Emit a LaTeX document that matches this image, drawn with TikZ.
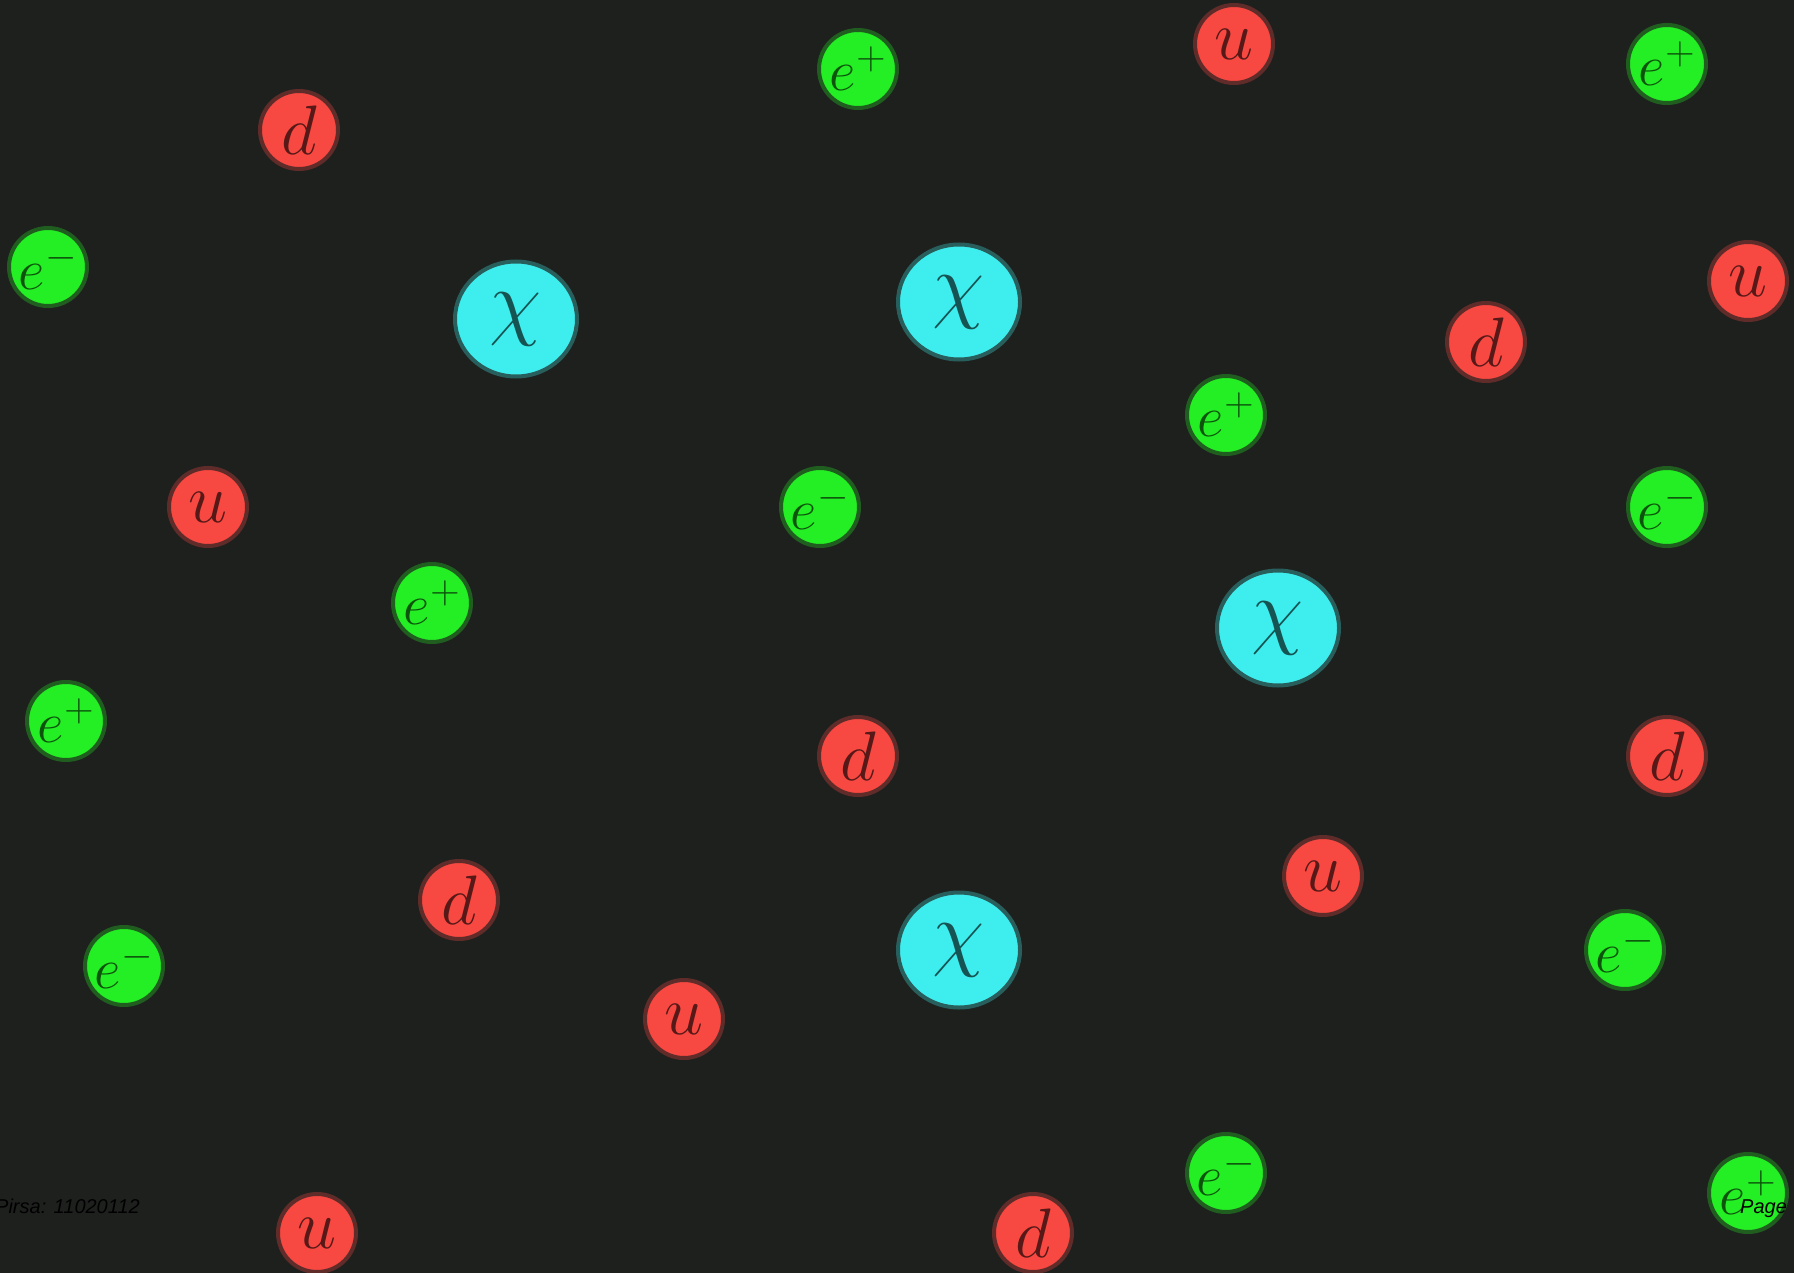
\RequirePackage{fix-cm}
\documentclass[tikz,border=0pt]{standalone}
\usepackage{fontspec}
\usetikzlibrary{shapes.geometric}
\newfontfamily\arialfont{Liberation Sans}
\definecolor{bg}{HTML}{1E201E}
\definecolor{qred}{HTML}{F84842}
\definecolor{lgreen}{HTML}{24EE24}
\definecolor{dcyan}{HTML}{3EEEEE}
\tikzset{
  particle/.style={circle, inner sep=0pt, line width=4pt, minimum size=78pt},
  quark/.style={particle, fill=qred, draw=qred!30!bg, text=qred!35!black, font=\fontsize{70}{70}\selectfont},
  lepton/.style={particle, fill=lgreen, draw=lgreen!30!bg, text=lgreen!35!black, font=\fontsize{58}{58}\selectfont},
  darkm/.style={ellipse, inner sep=0pt, line width=4pt, minimum width=122pt, minimum height=115pt, fill=dcyan, draw=dcyan!30!bg, text=dcyan!35!black, font=\fontsize{85}{85}\selectfont},
  footer/.style={text=black, font=\arialfont\itshape\fontsize{20}{20}\selectfont, inner sep=0pt}
}
\begin{document}
\begin{tikzpicture}[x=1pt,y=-1pt]
\fill[bg] (0,0) rectangle (1794,1273);
\useasboundingbox (0,0) rectangle (1794,1273);
% dark matter
\node[darkm] (x1) at (516,319) {$\chi$};
\node[darkm] (x2) at (959,302) {$\chi$};
\node[darkm] (x3) at (1278,628) {$\chi$};
\node[darkm] (x4) at (959,950) {$\chi$};
% quarks
\node[quark] (d1) at (299,130) {$d$};
\node[quark] (u1) at (1234,44) {$u$};
\node[quark] (u2) at (1748,281) {$u$};
\node[quark] (d2) at (1486,342) {$d$};
\node[quark] (u3) at (208,507) {$u$};
\node[quark] (d3) at (858,756) {$d$};
\node[quark] (d4) at (1667,756) {$d$};
\node[quark] (u4) at (1323,876) {$u$};
\node[quark] (d5) at (459,900) {$d$};
\node[quark] (u5) at (684,1019) {$u$};
\node[quark] (u6) at (317,1233) {$u$};
\node[quark] (d6) at (1033,1233) {$d$};
% leptons
\node[lepton] (p1) at (858,69) {$e^+$};
\node[lepton] (p2) at (1667,64) {$e^+$};
\node[lepton] (m1) at (48,267) {$e^-$};
\node[lepton] (p3) at (1226,415) {$e^+$};
\node[lepton] (m2) at (820,507) {$e^-$};
\node[lepton] (m3) at (1667,507) {$e^-$};
\node[lepton] (p4) at (432,603) {$e^+$};
\node[lepton] (p5) at (66,721) {$e^+$};
\node[lepton] (m4) at (1625,950) {$e^-$};
\node[lepton] (m5) at (124,966) {$e^-$};
\node[lepton] (m6) at (1226,1173) {$e^-$};
\node[lepton] (p6) at (1748,1193) {$e^+$};
% footer
\node[footer, anchor=base west] (pirsa) at (-5,1213) {Pirsa: 11020112};
\node[footer, anchor=base west] (page) at (1740,1213) {Page};
\end{tikzpicture}
\end{document}
